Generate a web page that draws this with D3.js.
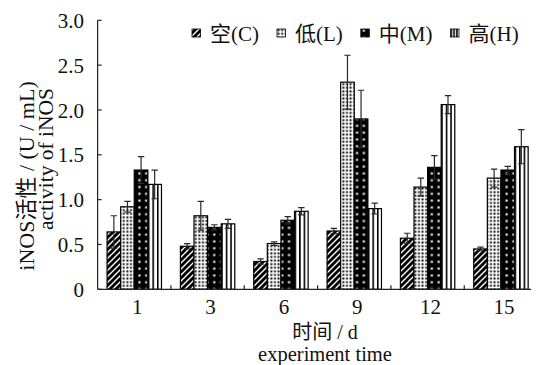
<!DOCTYPE html>
<html>
<head>
<meta charset="utf-8">
<script src="https://cdn.jsdelivr.net/npm/d3@7/dist/d3.min.js"></script>
<style>
  html, body { margin: 0; padding: 0; background: #fff; }
  svg { display: block; }
  text { font-family: "Liberation Serif", "Noto Sans CJK SC", serif; fill: #111; }
</style>
</head>
<body>
<svg id="chart" width="536" height="365"></svg>
<script>
// Experiment days (x categories)
const categories = ["1", "3", "6", "9", "12", "15"];
// Treatment groups
const seriesKeys = ["C", "L", "M", "H"];
const seriesLabels = ["空(C)", "低(L)", "中(M)", "高(H)"];
// iNOS activity (U/mL), mean per group
const valuesC = [0.64, 0.48, 0.31, 0.65, 0.57, 0.45];
const valuesL = [0.92, 0.82, 0.51, 2.31, 1.14, 1.24];
const valuesM = [1.33, 0.69, 0.77, 1.90, 1.36, 1.33];
const valuesH = [1.17, 0.73, 0.87, 0.90, 2.06, 1.59];
// Standard deviations
const errorsC = [0.18, 0.03, 0.03, 0.03, 0.055, 0.02];
const errorsL = [0.06, 0.16, 0.02, 0.30, 0.10, 0.10];
const errorsM = [0.15, 0.03, 0.04, 0.32, 0.13, 0.04];
const errorsH = [0.16, 0.05, 0.04, 0.06, 0.10, 0.19];
// Y axis ticks
const yTickValues = [0, 0.5, 1.0, 1.5, 2.0, 2.5, 3.0];
const yTickLabels = ["0", "0.5", "1.0", "1.5", "2.0", "2.5", "3.0"];

const valueTable = { C: valuesC, L: valuesL, M: valuesM, H: valuesH };
const errorTable = { C: errorsC, L: errorsL, M: errorsM, H: errorsH };

const svg = d3.select("#chart");
const plotLeft = 97.6, plotBottom = 289.3, plotTop = 20.3;
const fontSize = 21;

const x = d3.scaleBand().domain(categories).range([plotLeft, plotLeft + 440]).paddingInner(0).paddingOuter(0);
const groupWidth = 54.4;
const xs = d3.scaleBand().domain(seriesKeys)
  .range([(x.bandwidth() - groupWidth) / 2, (x.bandwidth() + groupWidth) / 2]);
const y = d3.scaleLinear().domain([0, 3]).range([plotBottom, plotTop]);

// Fill patterns
const defs = svg.append("defs");
// C: black with white diagonal strokes
const pC = defs.append("pattern").attr("id", "pat-C").attr("patternUnits", "userSpaceOnUse")
  .attr("width", 6).attr("height", 6);
pC.append("rect").attr("width", 6).attr("height", 6).attr("fill", "#000");
pC.append("path").attr("d", "M-1,7 L7,-1 M-1,1 L1,-1 M5,7 L7,5")
  .attr("stroke", "#fff").attr("stroke-width", 1.4);
// L: white with small black squares
const pL = defs.append("pattern").attr("id", "pat-L").attr("patternUnits", "userSpaceOnUse")
  .attr("width", 3.6).attr("height", 3.6);
pL.append("rect").attr("width", 3.6).attr("height", 3.6).attr("fill", "#fff");
pL.append("rect").attr("x", 0.4).attr("y", 0.4).attr("width", 1.9).attr("height", 1.9).attr("fill", "#000");
// M: black with white dots
const pM = defs.append("pattern").attr("id", "pat-M").attr("patternUnits", "userSpaceOnUse")
  .attr("width", 6.8).attr("height", 6.8);
pM.append("rect").attr("width", 6.8).attr("height", 6.8).attr("fill", "#000");
pM.append("rect").attr("x", 2.4).attr("y", 2.4).attr("width", 2.1).attr("height", 2.1).attr("fill", "#fff");
// H: vertical stripes, three per bar
const pH = defs.append("pattern").attr("id", "pat-H").attr("patternUnits", "objectBoundingBox")
  .attr("patternContentUnits", "userSpaceOnUse")
  .attr("width", 1 / 3).attr("height", 1);
pH.append("rect").attr("width", 100).attr("height", 1000).attr("y", -10).attr("fill", "#fff");
pH.append("rect").attr("width", 1.6).attr("height", 1000).attr("y", -10).attr("fill", "#000");

// Bars
const rows = [];
categories.forEach((c, i) => {
  seriesKeys.forEach(k => {
    rows.push({ cat: c, key: k, v: valueTable[k][i], e: errorTable[k][i] });
  });
});

const barG = svg.append("g");
barG.selectAll("rect").data(rows).join("rect")
  .attr("x", d => x(d.cat) + xs(d.key))
  .attr("y", d => y(d.v))
  .attr("width", xs.bandwidth())
  .attr("height", d => y(0) - y(d.v))
  .attr("fill", d => `url(#pat-${d.key})`)
  .attr("stroke", "#000")
  .attr("stroke-width", 1.2);

// Error bars (mean ± SD)
const errG = svg.append("g").attr("stroke", "#2a2a2a").attr("stroke-width", 1.2).attr("fill", "none");
const cap = 3.2;
errG.selectAll("path").data(rows).join("path")
  .attr("d", d => {
    const cx = x(d.cat) + xs(d.key) + xs.bandwidth() / 2;
    const y1 = y(d.v + d.e), y0 = y(d.v - d.e);
    return `M${cx},${y0}V${y1}M${cx - cap},${y1}H${cx + cap}M${cx - cap},${y0}H${cx + cap}`;
  });

// Axes
const axisG = svg.append("g").attr("stroke", "#222").attr("stroke-width", 1.2);
axisG.append("line").attr("x1", plotLeft).attr("x2", plotLeft).attr("y1", plotTop).attr("y2", plotBottom);
axisG.append("line").attr("x1", plotLeft).attr("x2", 531).attr("y1", plotBottom).attr("y2", plotBottom);
axisG.selectAll(".yt").data(yTickValues).join("line").attr("class", "yt")
  .attr("x1", plotLeft).attr("x2", plotLeft + 4).attr("y1", d => y(d)).attr("y2", d => y(d));
axisG.selectAll(".xt").data(categories.slice(1)).join("line").attr("class", "xt")
  .attr("x1", d => x(d)).attr("x2", d => x(d)).attr("y1", plotBottom).attr("y2", plotBottom - 4);

svg.append("g").selectAll("text").data(yTickValues).join("text")
  .attr("x", 84).attr("y", d => y(d)).attr("dy", "0.36em")
  .attr("text-anchor", "end").attr("font-size", fontSize)
  .text((d, i) => yTickLabels[i]);

svg.append("g").selectAll("text").data(categories).join("text")
  .attr("x", d => x(d) + x.bandwidth() / 2 + 3).attr("y", 314)
  .attr("text-anchor", "middle").attr("font-size", fontSize)
  .text(d => d);

// Axis titles (two-line, Chinese over English)
svg.append("text").attr("x", 325).attr("y", 338.5).attr("text-anchor", "middle")
  .attr("font-size", 20).text("时间 / d");
svg.append("text").attr("x", 325).attr("y", 361).attr("text-anchor", "middle")
  .attr("font-size", 20.5).text("experiment time");

const yTitle = svg.append("text").attr("transform", "rotate(-90)").attr("text-anchor", "middle");
yTitle.append("tspan").attr("x", -176).attr("y", 34).attr("font-size", 22).text("iNOS活性 / (U / mL)");
yTitle.append("tspan").attr("x", -159).attr("y", 53).attr("font-size", 21.5).text("activity of iNOS");

// Legend
const legend = svg.append("g");
let lx = 192;
seriesKeys.forEach((k, i) => {
  legend.append("rect").attr("x", lx).attr("y", 29).attr("width", 8.5).attr("height", 8)
    .attr("fill", `url(#pat-${k})`).attr("stroke", "#000").attr("stroke-width", 0.8);
  const t = legend.append("text").attr("x", lx + 18).attr("y", 41)
    .attr("font-size", fontSize).text(seriesLabels[i]);
  lx += 18 + t.node().getComputedTextLength() + 18;
});
</script>
</body>
</html>
